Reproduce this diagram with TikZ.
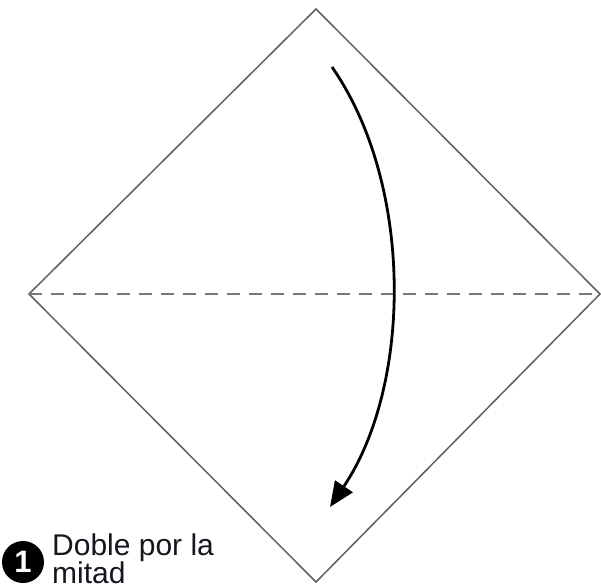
\documentclass[tikz,border=0pt]{standalone}
\usepackage{fontspec}
\setmainfont{Liberation Sans}
\usetikzlibrary{arrows.meta}
\definecolor{edgegray}{RGB}{95,95,95}
\definecolor{dashgray}{RGB}{120,120,120}
\definecolor{inkdark}{RGB}{25,20,30}
\tikzset{
  paperedge/.style={draw=edgegray, line width=1.5pt, line join=miter},
  foldline/.style={draw=dashgray, line width=1.5pt, dash pattern=on 13pt off 9pt},
  foldarrow/.style={draw=black, line width=2.8pt, -{Triangle[length=25pt,width=21pt]}},
  stepnum/.style={circle, fill=black, inner sep=0pt, minimum size=42pt, text=white, font=\fontsize{31}{31}\selectfont\bfseries},
  steplabel/.style={anchor=north west, inner sep=0pt, align=left, text=inkdark, font=\fontsize{30}{28}\selectfont}
}
\begin{document}
\begin{tikzpicture}[x=1pt,y=-1pt]
\useasboundingbox (0,0) rectangle (601,584);
\coordinate (T) at (316,9);
\coordinate (R) at (600,294);
\coordinate (B) at (316,582);
\coordinate (L) at (29,294);
\draw[paperedge] (T) -- (R) -- (B) -- (L) -- cycle;
\draw[foldline] (L) -- (R);
\coordinate (S) at (332,67);
\coordinate (E) at (330,507);
\draw[foldarrow] (S) .. controls (414,185) and (412,385) .. (E);
\node[stepnum] (num) at (23,562) {1};
\node[steplabel] (lab) at (52,534) {Doble por la\\mitad};
\end{tikzpicture}
\end{document}
